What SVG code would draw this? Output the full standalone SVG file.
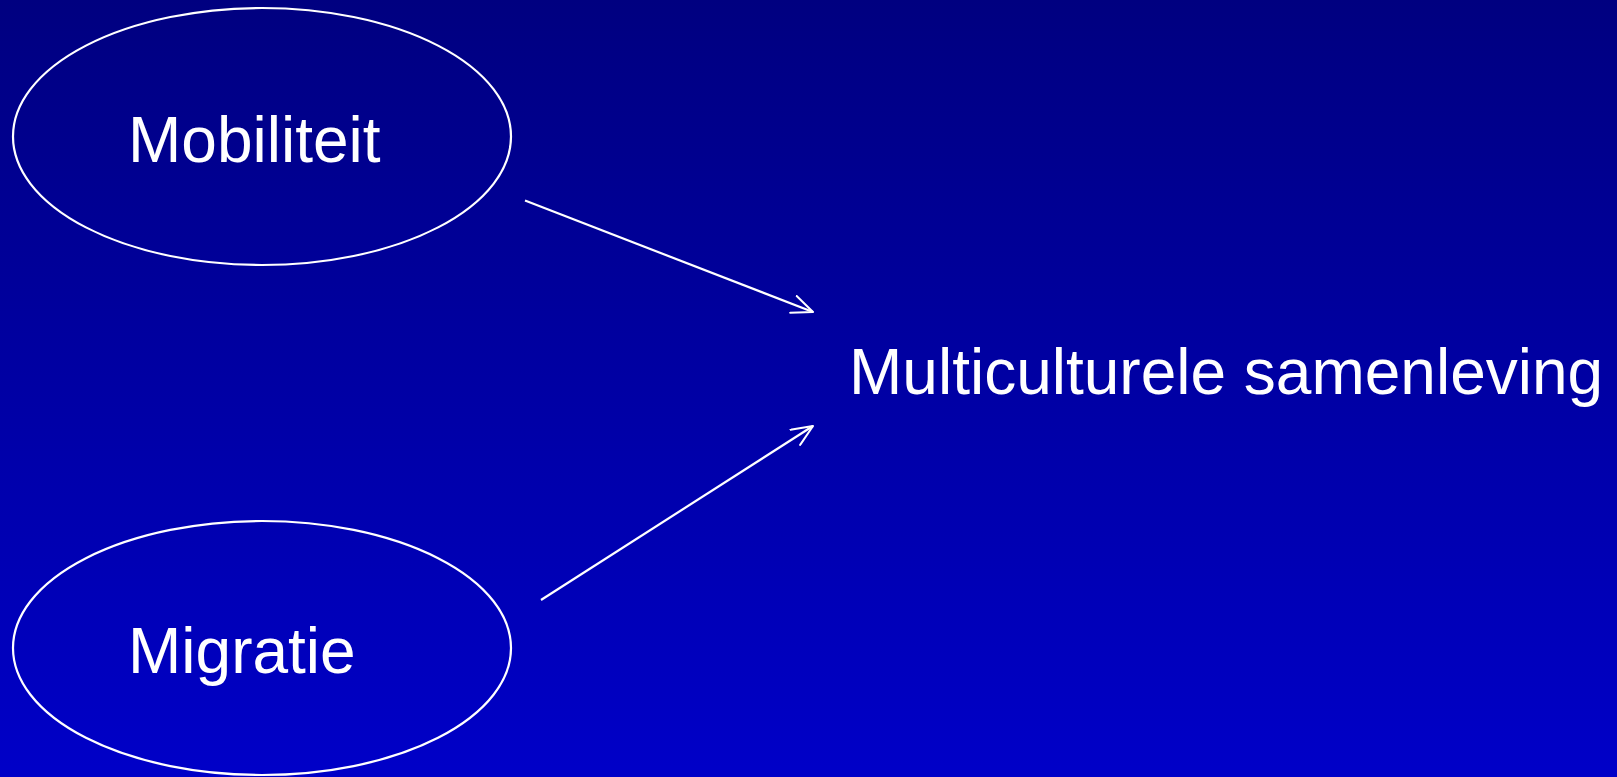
<svg xmlns="http://www.w3.org/2000/svg" width="1617" height="777" viewBox="0 0 1617 777">
  <defs>
    <linearGradient id="bg" x1="0" y1="0" x2="0" y2="1">
      <stop offset="0" stop-color="#000080"/>
      <stop offset="1" stop-color="#0000C8"/>
    </linearGradient>
    <marker id="open-arrow" viewBox="0 0 24 20" refX="22" refY="10" markerWidth="24" markerHeight="20" markerUnits="userSpaceOnUse" orient="auto">
      <path d="M1,1 L22,10 L1,19" fill="none" stroke="#FFFFFF" stroke-width="2" stroke-linecap="round" stroke-linejoin="round"/>
    </marker>
    <style>
      .node-shape { fill: none; stroke: #FFFFFF; stroke-width: 2.2; }
      .label { font-family: "Liberation Sans", Arial, sans-serif; font-size: 64px; fill: #FFFFFF; }
      .edge { stroke: #FFFFFF; stroke-width: 2.2; fill: none; marker-end: url(#open-arrow); }
    </style>
  </defs>

  <rect x="0" y="0" width="1617" height="777" fill="url(#bg)"/>

  <g id="node-mobiliteit">
    <ellipse class="node-shape" cx="262" cy="136.5" rx="249" ry="128.5"/>
    <text class="label" x="128" y="162">Mobiliteit</text>
  </g>

  <g id="node-migratie">
    <ellipse class="node-shape" cx="262" cy="648" rx="249" ry="127"/>
    <text class="label" x="128" y="673">Migratie</text>
  </g>

  <g id="node-multiculturele-samenleving">
    <text class="label" x="849" y="394">Multiculturele samenleving</text>
  </g>

  <g id="connectors">
    <line class="edge" x1="525" y1="200.5" x2="813" y2="312"/>
    <line class="edge" x1="541" y1="600" x2="813" y2="426"/>
  </g>
</svg>
